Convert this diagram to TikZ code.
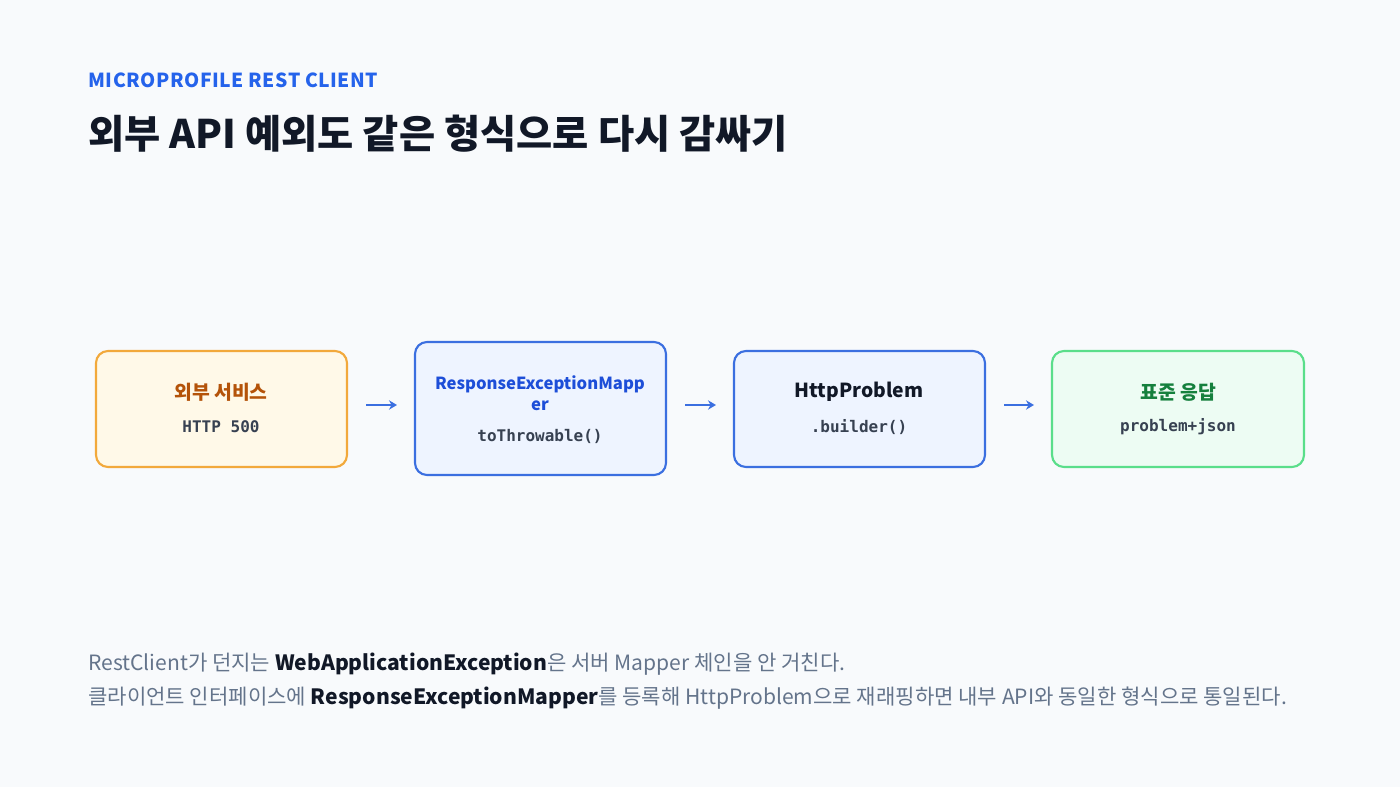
\documentclass[tikz,border=0pt]{standalone}
\usepackage{fontspec}
\setmainfont{Noto Sans CJK KR}
\newfontfamily\monof{DejaVu Sans Mono}
\usetikzlibrary{arrows.meta}
\definecolor{bg}{HTML}{F8FAFC}
\definecolor{hdr}{HTML}{2563EB}
\definecolor{ttl}{HTML}{111827}
\definecolor{gry}{HTML}{64748B}
\definecolor{mono}{HTML}{374151}
\definecolor{orb}{HTML}{F2A93B}\definecolor{orf}{HTML}{FFF9E8}\definecolor{ort}{HTML}{B45309}
\definecolor{blb}{HTML}{3B6FE0}\definecolor{blf}{HTML}{EEF4FF}\definecolor{blt}{HTML}{1D4ED8}
\definecolor{grb}{HTML}{5ADE8A}\definecolor{grf}{HTML}{EDFCF3}\definecolor{grt}{HTML}{15803D}
\tikzset{
 box/.style={draw=#1,line width=1.6pt,rounded corners=9pt,inner sep=0pt},
 arr/.style={draw=blb,line width=1.3pt,-{Stealth[length=6pt,width=7pt]}},
 bt/.style={font=\fontsize{14.5}{17}\selectfont\bfseries},
 mt/.style={font=\monof\fontsize{12}{14}\selectfont\bfseries,text=mono}
}
\begin{document}
\begin{tikzpicture}[x=0.75pt,y=-0.75pt]
\fill[bg] (0,0) rectangle (1400,787);
\useasboundingbox (0,0) rectangle (1400,787);
\node[anchor=base west,inner sep=0pt,text=hdr,font=\fontsize{14.5}{17}\selectfont\bfseries] (h) at (88,88) {M\kern.4pt I\kern.4pt C\kern.4pt R\kern.4pt O\kern.4pt P\kern.4pt R\kern.4pt O\kern.4pt F\kern.4pt I\kern.4pt L\kern.4pt E\ R\kern.4pt E\kern.4pt S\kern.4pt T\ C\kern.4pt L\kern.4pt I\kern.4pt E\kern.4pt N\kern.4pt T};
\node[anchor=base west,inner sep=0pt,text=ttl,font=\fontsize{29.5}{34}\selectfont\bfseries] (t) at (88,149) {외부 API 예외도 같은 형식으로 다시 감싸기};
\path[box=orb,fill=orf] (96,351) rectangle (347,467);
\path[box=blb,fill=blf] (415,342) rectangle (666,475);
\path[box=blb,fill=blf] (734,351) rectangle (985,467);
\path[box=grb,fill=grf] (1052,351) rectangle (1304,467);
\node[bt,text=ort] (a1) at (221,392) {외부 서비스};
\node[mt] (a2) at (221,427) {HTTP 500};
\node[bt,text=blt,font=\fontsize{12.5}{16}\selectfont\bfseries,align=center] (b1) at (540,393) {ResponseExceptionMapp\\er};
\node[mt] (b2) at (540,436) {toThrowable()};
\node[bt,text=ttl] (c1) at (859,392) {HttpProblem};
\node[mt] (c2) at (859,427) {.builder()};
\node[bt,text=grt] (d1) at (1178,392) {표준 응답};
\node[mt] (d2) at (1178,427) {problem+json};
\coordinate (p1) at (366,405);\coordinate (q1) at (397,405);
\coordinate (p2) at (685,405);\coordinate (q2) at (716,405);
\coordinate (p3) at (1004,405);\coordinate (q3) at (1034,405);
\draw[arr] (p1)--(q1);\draw[arr] (p2)--(q2);\draw[arr] (p3)--(q3);
\node[anchor=base west,inner sep=0pt,text=gry,font=\fontsize{15.8}{18}\selectfont] (f1) at (88,670) {RestClient가 던지는 \textcolor{ttl}{\bfseries WebApplicationException}은 서버 Mapper 체인을 안 거친다.};
\node[anchor=base west,inner sep=0pt,text=gry,font=\fontsize{15.8}{18}\selectfont] (f2) at (88,704) {클라이언트 인터페이스에 \textcolor{ttl}{\bfseries ResponseExceptionMapper}를 등록해 HttpProblem으로 재래핑하면 내부 API와 동일한 형식으로 통일된다.};
\end{tikzpicture}
\end{document}
